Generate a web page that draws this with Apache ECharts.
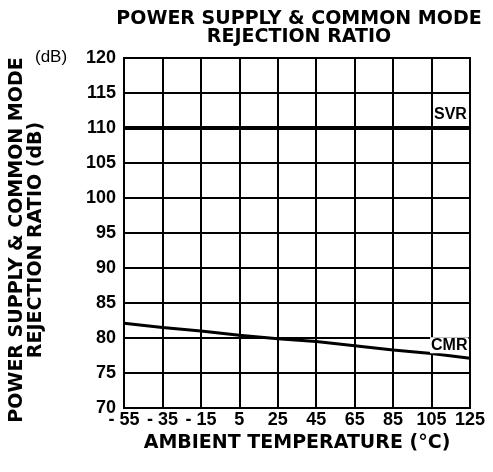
<!DOCTYPE html>
<html>
<head>
<meta charset="utf-8">
<script src="https://cdn.jsdelivr.net/npm/echarts@6/dist/echarts.min.js"></script>
<style>
  html, body { margin: 0; padding: 0; background: #fff; }
  #chart { width: 493px; height: 472px; }
</style>
</head>
<body>
<div id="chart"></div>
<script>
// temperatures (deg C) along the x axis
var temps = [-55, -35, -15, 5, 25, 45, 65, 85, 105, 125];
// rejection ratios in dB
var svrValues = [110, 110, 110, 110, 110, 110, 110, 110, 110, 110];
var cmrValues = [82.1, 81.5, 81.0, 80.4, 79.9, 79.5, 78.9, 78.3, 77.8, 77.1];

var heavy = 'DejaVu Sans';
var plain = 'Liberation Sans';

var myChart = echarts.init(document.getElementById('chart'));

var option = {
    backgroundColor: '#fff',
    animation: false,
    title: {
        text: 'POWER SUPPLY & COMMON MODE\nREJECTION RATIO',
        left: 294,
        top: 5,
        textAlign: 'center',
        textStyle: {
            fontFamily: heavy,
            fontWeight: 'bold',
            fontSize: 19,
            lineHeight: 18,
            color: '#000'
        }
    },
    grid: {
        left: 122,
        right: 23,
        top: 58,
        bottom: 64,
        show: true,
        borderColor: '#000',
        borderWidth: 2
    },
    xAxis: {
        type: 'category',
        data: temps,
        boundaryGap: false,
        name: 'AMBIENT TEMPERATURE (°C)',
        nameLocation: 'middle',
        nameGap: 20,
        nameTextStyle: {
            fontFamily: heavy,
            fontWeight: 'bold',
            fontSize: 19,
            color: '#000'
        },
        axisLine: { lineStyle: { color: '#000', width: 2 } },
        axisTick: { show: false },
        axisLabel: {
            interval: 0,
            margin: 3,
            fontFamily: plain,
            fontWeight: 'bold',
            fontSize: 18,
            color: '#000',
            formatter: function (v) { return String(v).replace('-', '- '); }
        },
        splitLine: { show: true, interval: 0, lineStyle: { color: '#000', width: 2 } }
    },
    yAxis: {
        type: 'value',
        min: 70,
        max: 120,
        interval: 5,
        name: 'POWER SUPPLY & COMMON MODE\nREJECTION RATIO (dB)',
        nameLocation: 'middle',
        nameRotate: 90,
        nameGap: 78,
        nameTextStyle: {
            fontFamily: heavy,
            fontWeight: 'bold',
            fontSize: 19,
            lineHeight: 19,
            color: '#000',
            padding: [0, 14, 0, 0]
        },
        axisLine: { show: true, lineStyle: { color: '#000', width: 2 } },
        axisTick: { show: false },
        axisLabel: {
            margin: 8,
            fontFamily: plain,
            fontWeight: 'bold',
            fontSize: 18,
            color: '#000'
        },
        splitLine: { lineStyle: { color: '#000', width: 2 } }
    },
    graphic: [{
        type: 'text',
        left: 35,
        top: 49,
        style: {
            text: '(dB)',
            font: '17px "Liberation Sans"',
            fill: '#000'
        }
    }],
    series: [
        {
            name: 'SVR',
            type: 'line',
            data: svrValues,
            symbol: 'none',
            lineStyle: { color: '#000', width: 4 },
            endLabel: {
                show: true,
                formatter: 'SVR',
                offset: [-44, -13],
                fontFamily: plain,
                fontWeight: 'bold',
                fontSize: 16,
                color: '#000'
            }
        },
        {
            name: 'CMR',
            type: 'line',
            data: cmrValues,
            symbol: 'none',
            lineStyle: { color: '#000', width: 3 },
            endLabel: {
                show: true,
                formatter: 'CMR',
                offset: [-48, -13],
                fontFamily: plain,
                fontWeight: 'bold',
                fontSize: 16,
                color: '#000',
                backgroundColor: '#fff',
                padding: [0, 1, 0, 1]
            }
        }
    ]
};

myChart.setOption(option);
</script>
</body>
</html>
